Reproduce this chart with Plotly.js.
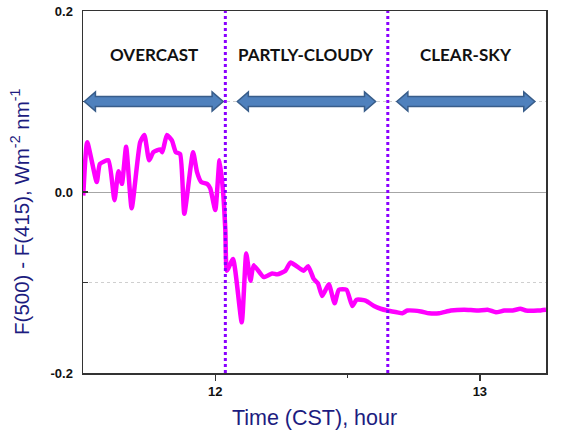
<!DOCTYPE html>
<html>
<head>
<meta charset="utf-8">
<script src="https://cdn.plot.ly/plotly-3.0.1.min.js"></script>
<style>html,body{margin:0;padding:0;background:#fff;}#chart{width:575px;height:432px;}</style>
</head>
<body>
<div id="chart"></div>
<script>
// Time (CST, hour) and flux difference F(500)-F(415)
const timeHours = [11.501,11.516,11.552,11.564,11.596,11.619,11.634,11.647,11.663,11.684,
  11.716,11.732,11.75,11.766,11.792,11.8,11.817,11.836,11.851,11.867,
  11.883,11.916,11.931,11.947,11.969,11.981,12.0,12.016,12.029,12.038,
  12.044,12.067,12.1,12.117,12.133,12.145,12.183,12.215,12.234,12.265,
  12.284,12.322,12.334,12.351,12.372,12.388,12.404,12.429,12.451,12.467,
  12.496,12.518,12.534,12.568,12.6,12.625,12.65,12.688,12.707,12.726,
  12.777,12.808,12.846,12.89,12.941,12.991,13.029,13.061,13.092,13.124,
  13.153,13.174,13.219,13.25];
const fluxDiff = [-0.004,0.055,0.011,0.031,0.035,-0.009,0.023,0.009,0.050,-0.018,
  0.055,0.063,0.035,0.044,0.047,0.044,0.063,0.057,0.044,0.042,
  -0.024,0.044,0.022,0.011,0.009,0.004,-0.020,0.035,0.002,-0.042,
  -0.087,-0.074,-0.144,-0.068,-0.098,-0.081,-0.094,-0.090,-0.091,-0.087,
  -0.078,-0.085,-0.087,-0.082,-0.096,-0.101,-0.115,-0.102,-0.123,-0.108,
  -0.108,-0.126,-0.119,-0.120,-0.126,-0.129,-0.131,-0.133,-0.134,-0.131,
  -0.132,-0.134,-0.134,-0.131,-0.130,-0.131,-0.130,-0.133,-0.131,-0.131,
  -0.129,-0.131,-0.131,-0.130];

// Sky-condition phases
const phaseNames = ['OVERCAST','PARTLY-CLOUDY','CLEAR-SKY'];
const arrowStart = [11.505, 12.083, 12.686];
const arrowEnd   = [12.030, 12.606, 13.208];
const phaseBoundaries = [12.038, 12.652];

// Axis ticks
const xTickVals = [12, 13];
const xTickText = ['12', '13'];
const yTickVals = [-0.2, 0, 0.2];
const yTickText = ['-0.2', '0.0', '0.2'];
const yMinorVals = [-0.1, 0.1];

const xTitle = 'Time (CST), hour';
const yTitle = 'F(500) - F(415), Wm<sup>-2</sup> nm<sup>-1</sup>';

const arrowY = 0.1, arrowLabelY = 0.152;
const shaftHalf = 0.0055, headHalf = 0.0105, headLen = 0.042;

const shapes = [];
const annotations = [];
phaseNames.forEach((name, i) => {
  const x0 = arrowStart[i], x1 = arrowEnd[i];
  const p = [
    [x0, arrowY], [x0 + headLen, arrowY + headHalf], [x0 + headLen, arrowY + shaftHalf],
    [x1 - headLen, arrowY + shaftHalf], [x1 - headLen, arrowY + headHalf], [x1, arrowY],
    [x1 - headLen, arrowY - headHalf], [x1 - headLen, arrowY - shaftHalf],
    [x0 + headLen, arrowY - shaftHalf], [x0 + headLen, arrowY - headHalf]
  ];
  shapes.push({
    type: 'path', xref: 'x', yref: 'y',
    path: 'M' + p.map(q => q[0] + ',' + q[1]).join(' L') + ' Z',
    fillcolor: '#4f81bd', line: {color: '#385d8a', width: 1.5}, layer: 'above'
  });
  annotations.push({
    x: (x0 + x1) / 2, y: arrowLabelY, xref: 'x', yref: 'y', text: '<b>' + name + '</b>', showarrow: false,
    font: {family: 'Lato, "Open Sans", sans-serif', size: 17, color: '#111'},
    xanchor: 'center', yanchor: 'middle'
  });
});

const navy = '#1c1c80';
// y-axis title drawn as rotated text, centred where the reference places it
annotations.push({
  xref: 'paper', yref: 'paper', x: -0.136, y: 0.445, xanchor: 'center', yanchor: 'middle',
  text: yTitle, textangle: -90, showarrow: false,
  font: {family: 'Arial, "Liberation Sans", sans-serif', size: 20.5, color: navy}
});

phaseBoundaries.forEach(b => {
  shapes.push({
    type: 'line', xref: 'x', yref: 'paper', x0: b, x1: b, y0: 0, y1: 1,
    line: {color: '#8a00ff', width: 3, dash: 'dot'}, layer: 'above'
  });
});

const trace = {
  x: timeHours, y: fluxDiff, type: 'scatter', mode: 'lines',
  line: {color: '#ff00ff', width: 4.5, shape: 'spline', smoothing: 0.5},
  hoverinfo: 'skip', showlegend: false
};

const layout = {
  width: 575, height: 432,
  margin: {l: 83, r: 29, t: 11, b: 59, pad: 0},
  paper_bgcolor: '#ffffff', plot_bgcolor: '#ffffff',
  showlegend: false,
  xaxis: {
    range: [11.5, 13.25],
    tickvals: xTickVals, ticktext: xTickText,
    ticks: 'outside', ticklen: 6, tickwidth: 1.5, tickcolor: '#333',
    minor: {tickvals: [12.5], ticks: 'outside', ticklen: 3, tickwidth: 1.5, tickcolor: '#333', showgrid: false},
    showgrid: false, zeroline: false,
    showline: true, linecolor: '#333', linewidth: 1.5, mirror: true,
    tickfont: {family: 'Arial, "Liberation Sans", sans-serif', size: 13, color: '#111', weight: 'bold'},
    title: {text: xTitle, font: {family: 'Arial, "Liberation Sans", sans-serif', size: 21.5, color: navy}, standoff: 12}
  },
  yaxis: {
    range: [-0.2, 0.2],
    tickvals: yTickVals, ticktext: yTickText,
    ticks: 'inside', ticklen: 5, tickwidth: 1.5, tickcolor: '#333',
    ticklabelstandoff: 6,
    minor: {tickvals: yMinorVals, ticks: 'inside', ticklen: 5, tickwidth: 1.5, tickcolor: '#333',
            showgrid: true, gridcolor: '#cfcfcf', griddash: 'dot', gridwidth: 1},
    showgrid: false,
    zeroline: true, zerolinecolor: '#a6a6a6', zerolinewidth: 1,
    showline: true, linecolor: '#333', linewidth: 1.5, mirror: true,
    tickfont: {family: 'Arial, "Liberation Sans", sans-serif', size: 13, color: '#111', weight: 'bold'}
  },
  shapes: shapes,
  annotations: annotations
};

Plotly.newPlot('chart', [trace], layout, {staticPlot: true, displayModeBar: false});
</script>
</body>
</html>
